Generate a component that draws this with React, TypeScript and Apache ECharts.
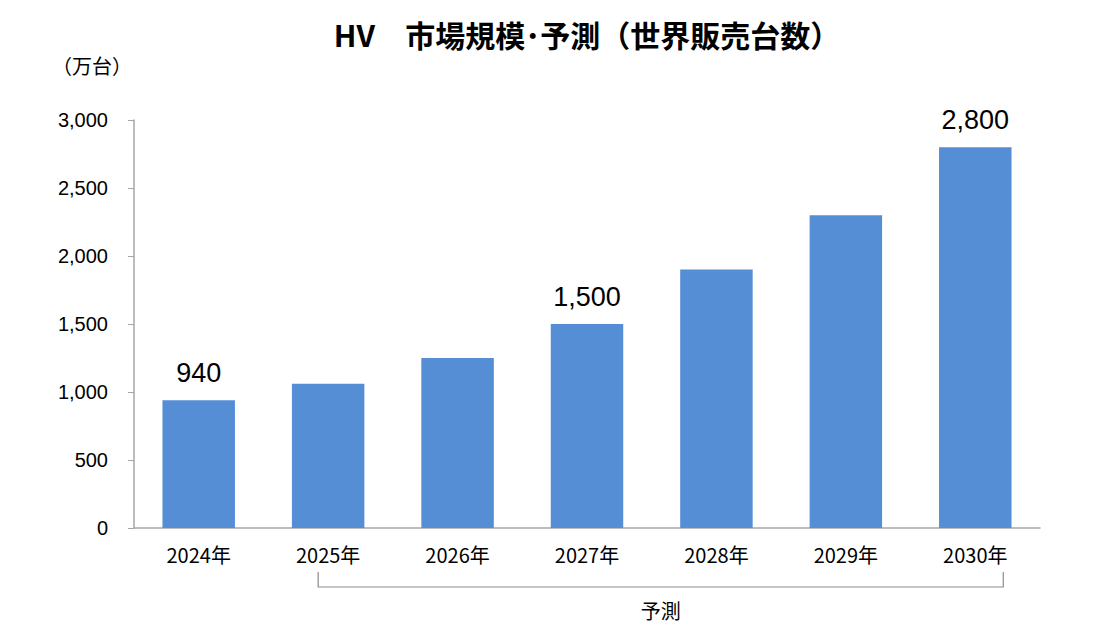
import React, { useEffect, useRef } from "react";
import * as echarts from "echarts";

const categories = ["2024年", "2025年", "2026年", "2027年", "2028年", "2029年", "2030年"];
const values = [940, 1060, 1250, 1500, 1900, 2300, 2800];
const labeledIndexes = [0, 3, 6];
const titleText = "HV\u3000市場規模･予測（世界販売台数）";
const unitText = "（万台）";
const forecastText = "予測";

export default function App() {
  const ref = useRef<HTMLDivElement>(null);
  useEffect(() => {
    if (!ref.current) return;
    const chart = echarts.init(ref.current, null, { renderer: "svg" });
    const font = "'Noto Sans CJK JP', 'Noto Sans', sans-serif";
    const latin = "'Liberation Sans', Arial, sans-serif";
    chart.setOption({
      animation: false,
      backgroundColor: "#ffffff",
      textStyle: { fontFamily: font },
      title: {
        text: titleText,
        left: 582,
        textAlign: "center",
        top: 14,
        textStyle: { fontSize: 30, fontWeight: "bold", color: "#000", fontFamily: font },
      },
      grid: { left: 134, right: 64, top: 120, bottom: 109, containLabel: false },
      xAxis: {
        type: "category",
        data: categories,
        axisLine: { lineStyle: { color: "#a6a6a6", width: 1.5 } },
        axisTick: { show: false },
        axisLabel: { fontSize: 20, color: "#000", margin: 16, fontFamily: font },
      },
      yAxis: {
        type: "value",
        min: 0,
        max: 3000,
        interval: 500,
        axisLine: { show: true, lineStyle: { color: "#a6a6a6", width: 1.5 } },
        axisTick: { show: true, length: 6, lineStyle: { color: "#a6a6a6" } },
        splitLine: { show: false },
        axisLabel: {
          fontSize: 20,
          color: "#000",
          margin: 26,
          fontFamily: latin,
          formatter: (v: number) => v.toLocaleString("en-US"),
        },
      },
      series: [
        {
          type: "bar",
          data: values.map((v, i) => ({
            value: v,
            label: {
              show: labeledIndexes.includes(i),
              position: "top",
              distance: 14,
              fontSize: 27,
              color: "#000",
              fontFamily: latin,
              formatter: (p: any) => Number(p.value).toLocaleString("en-US"),
            },
          })),
          barWidth: "56%",
          itemStyle: { color: "#558ED5" },
        },
      ],
    });
    const p1 = chart.convertToPixel({ xAxisIndex: 0 }, categories[1]) as number;
    const p6 = chart.convertToPixel({ xAxisIndex: 0 }, categories[6]) as number;
    const xl = p1 - 10;
    const xr = p6 + 28;
    const yTop = 572;
    const yBot = 587;
    chart.setOption({
      graphic: [
        {
          type: "text",
          left: 52,
          top: 55,
          style: { text: unitText, fontSize: 20, fill: "#000", fontFamily: font },
        },
        {
          type: "polyline",
          shape: { points: [[xl, yTop], [xl, yBot], [xr, yBot], [xr, yTop]] },
          style: { stroke: "#8c8c8c", fill: "none", lineWidth: 1.2 },
        },
        {
          type: "text",
          x: (xl + xr) / 2,
          y: 610,
          style: {
            text: forecastText,
            fontSize: 20,
            fill: "#000",
            fontFamily: font,
            align: "center",
            verticalAlign: "middle",
          },
        },
      ],
    });
    return () => chart.dispose();
  }, []);
  return <div ref={ref} style={{ width: 1104, height: 637, position: "absolute", left: 0, top: 0 }} />;
}
